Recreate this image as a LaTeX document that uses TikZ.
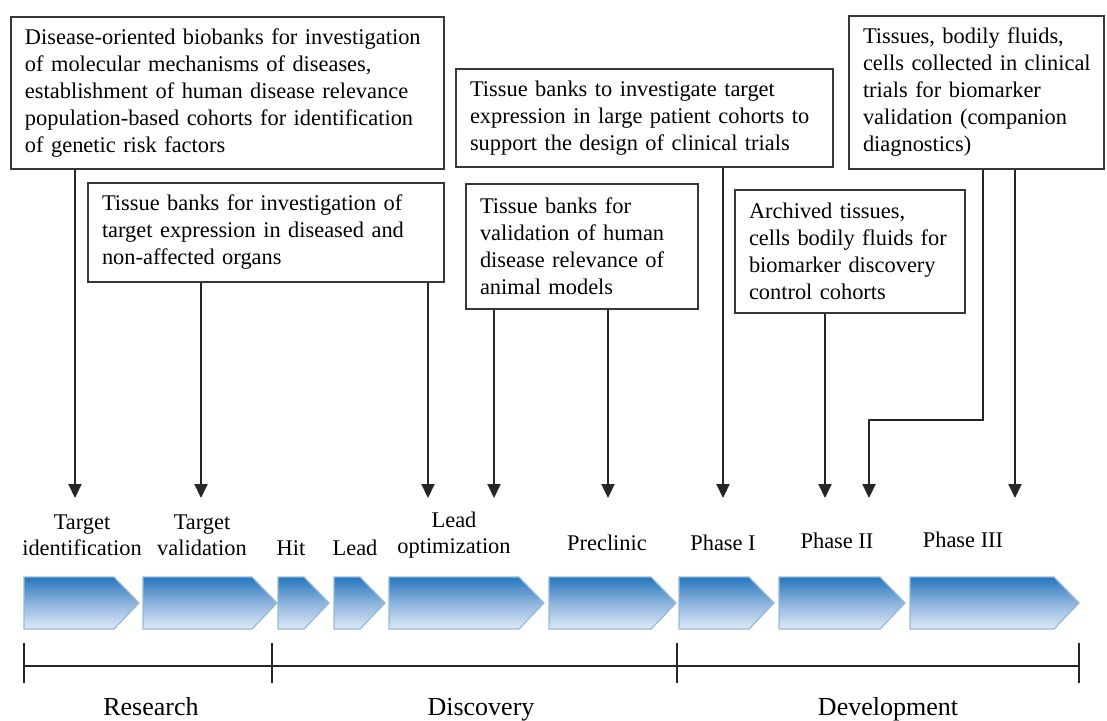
\documentclass[tikz,border=0pt]{standalone}
\usepackage{fontspec}
\setmainfont{Liberation Serif}
\usetikzlibrary{arrows.meta}
\definecolor{chevtop}{RGB}{38,118,188}
\definecolor{chevmid}{RGB}{140,180,220}
\definecolor{chevbot}{RGB}{222,233,246}
\definecolor{chevline}{RGB}{150,185,218}
\definecolor{boxline}{RGB}{55,55,55}

\begin{document}
\begin{tikzpicture}[x=0.5pt,y=-0.5pt,
  infobox/.style={draw=boxline,line width=1pt,align=left,inner xsep=7pt,inner ysep=0pt,font=\fontsize{11.2}{13.5}\selectfont},
  stage/.style={align=center,inner sep=0pt,font=\fontsize{11.2}{13}\selectfont},
  era/.style={anchor=base,inner sep=0pt,font=\fontsize{13}{15}\selectfont},
  arr/.style={line width=1pt,draw=black!85,-{Triangle[length=7pt,width=6.5pt]}},
  chev/.style={draw=chevline,line width=0.6pt,top color=chevtop,bottom color=chevbot,middle color=chevmid},
  timeline/.style={line width=1pt,draw=black!85}]
\useasboundingbox (0,0) rectangle (1107,720);

\node[infobox,text width=202.5pt,minimum height=76pt] (disease) at (227.5,93) {Disease-oriented biobanks for investigation\\of molecular mechanisms of diseases,\\establishment of human disease relevance\\population-based cohorts for identification\\of genetic risk factors};
\node[infobox,text width=164pt,minimum height=49.5pt] (expr) at (266,232.5) {Tissue banks for investigation of\\target expression in diseased and\\non-affected organs};
\node[infobox,text width=174.5pt,minimum height=49pt] (trials) at (644.5,118) {Tissue banks to investigate target\\expression in large patient cohorts to\\support the design of clinical trials};
\node[infobox,text width=102pt,minimum height=62.5pt] (animal) at (582,246.5) {Tissue banks for\\validation of human\\disease relevance of\\animal models};
\node[infobox,text width=101pt,minimum height=61.5pt] (archive) at (850,251.5) {Archived tissues,\\cells bodily fluids for\\biomarker discovery\\control cohorts};
\node[infobox,text width=113.5pt,minimum height=76.5pt] (compan) at (976.5,92.5) {Tissues, bodily fluids,\\\mbox{cells collected in clinical}\\trials for biomarker\\validation (companion\\diagnostics)};

\node[stage] (tid) at (82,535) {Target\\identification};
\node[stage] (tval) at (202,535) {Target\\validation};
\node[stage] (hit) at (291,548) {Hit};
\node[stage] (lead) at (355,548) {Lead};
\node[stage] (leadopt) at (454,535) {Lead\\optimization};
\node[stage] (precl) at (607,543) {Preclinic};
\node[stage] (ph1) at (723,543) {Phase I};
\node[stage] (ph2) at (837,541) {Phase II};
\node[stage] (ph3) at (963,540) {Phase III};

\coordinate (e1) at (75,498);
\coordinate (e2) at (201,498);
\coordinate (e3) at (428,498);
\coordinate (e4) at (494,498);
\coordinate (e5) at (608,498);
\coordinate (e6) at (723,498);
\coordinate (e7) at (825,498);
\coordinate (k8) at (983,420);
\coordinate (e8) at (869,498);
\coordinate (e9) at (1015,498);

\draw[arr] (disease.south -| e1) -- (e1);
\draw[arr] (expr.south -| e2) -- (e2);
\draw[arr] (expr.south -| e3) -- (e3);
\draw[arr] (animal.south -| e4) -- (e4);
\draw[arr] (animal.south -| e5) -- (e5);
\draw[arr] (trials.south -| e6) -- (e6);
\draw[arr] (archive.south -| e7) -- (e7);
\draw[arr] (compan.south -| k8) -- (k8) -| (e8);
\draw[arr] (compan.south -| e9) -- (e9);

\foreach \xa/\xb in {24/139,143/277,278/329,334/385,389/544,549/676,679/774,779/905,910/1079}
  \shadedraw[chev] (\xa,577) -- ({\xb-25},577) -- (\xb,603) -- ({\xb-25},629) -- (\xa,629) -- cycle;

\draw[timeline] (24,666) -- (1079,666);
\foreach \xt in {24,272,677,1079}
  \draw[timeline] (\xt,643) -- (\xt,683);

\node[era] (research) at (151,715) {Research};
\node[era] (discovery) at (481,715) {Discovery};
\node[era] (development) at (888,715) {Development};
\end{tikzpicture}
\end{document}
